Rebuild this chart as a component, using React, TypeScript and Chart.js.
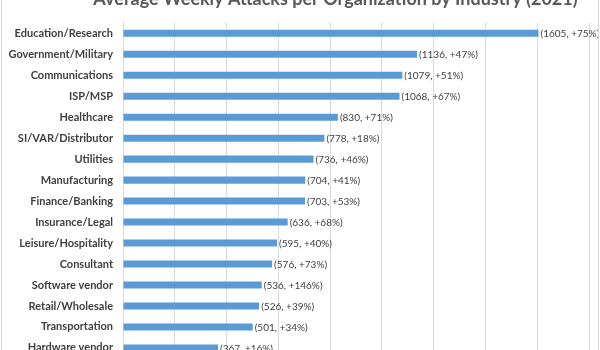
import React, { useEffect, useRef } from "react";
import { Chart, registerables } from "chart.js";

Chart.register(...registerables);

const TITLE = "Average Weekly Attacks per Organization by Industry (2021)";

const industries = [
  "Education/Research",
  "Government/Military",
  "Communications",
  "ISP/MSP",
  "Healthcare",
  "SI/VAR/Distributor",
  "Utilities",
  "Manufacturing",
  "Finance/Banking",
  "Insurance/Legal",
  "Leisure/Hospitality",
  "Consultant",
  "Software vendor",
  "Retail/Wholesale",
  "Transportation",
  "Hardware vendor",
];

const weeklyAttacks = [1605, 1136, 1079, 1068, 830, 778, 736, 704, 703, 636, 595, 576, 536, 526, 501, 367];

const changeVsPrev = ["+75%", "+47%", "+51%", "+67%", "+71%", "+18%", "+46%", "+41%", "+53%", "+68%", "+40%", "+73%", "+146%", "+39%", "+34%", "+16%"];

const FONT = "Lato, 'Open Sans', sans-serif";

const labelPlugin = {
  id: "barValueLabels",
  afterDatasetsDraw(chart: any) {
    const { ctx } = chart;
    const meta = chart.getDatasetMeta(0);
    ctx.save();
    ctx.font = `10px ${FONT}`;
    ctx.fillStyle = "#404040";
    ctx.textAlign = "left";
    ctx.textBaseline = "middle";
    meta.data.forEach((bar: any, i: number) => {
      const txt = `(${weeklyAttacks[i]}, ${changeVsPrev[i]})`;
      ctx.fillText(txt, bar.x + 2, bar.y + 0.5);
    });
    ctx.restore();
  },
};

const titlePlugin = {
  id: "offsetTitle",
  afterDraw(chart: any) {
    const { ctx, width, height } = chart;
    ctx.save();
    ctx.font = `bold 18px ${FONT}`;
    ctx.fillStyle = "#595959";
    ctx.textAlign = "center";
    ctx.textBaseline = "alphabetic";
    ctx.fillText(TITLE, 335.5, 14.5);
    ctx.strokeStyle = "#D9D9D9";
    ctx.lineWidth = 1;
    ctx.strokeRect(1.5, 0.5, width - 3, height - 1);
    ctx.restore();
  },
};

export default function App() {
  const ref = useRef<HTMLCanvasElement>(null);

  useEffect(() => {
    if (!ref.current) return;
    const chart = new Chart(ref.current, {
      type: "bar",
      data: {
        labels: industries,
        datasets: [
          {
            data: weeklyAttacks,
            backgroundColor: "#5B9BD5",
            borderWidth: 0,
            barPercentage: 0.8,
            categoryPercentage: 0.42,
          },
        ],
      },
      options: {
        indexAxis: "y",
        animation: false,
        responsive: false,
        maintainAspectRatio: false,
        layout: { padding: { left: 0, right: 11, top: 32.8, bottom: 7.8 } },
        plugins: {
          legend: { display: false },
          tooltip: { enabled: false },
          title: { display: false },
        },
        scales: {
          x: {
            min: 0,
            max: 1800,
            afterFit: (s: any) => {
              s.height = 0;
            },
            ticks: { display: false, stepSize: 200 },
            grid: { color: "#D9D9D9", drawTicks: false },
            border: { display: false },
          },
          y: {
            afterFit: (s: any) => {
              s.width = 123;
            },
            ticks: {
              color: "#404040",
              padding: 10,
              font: { family: FONT, size: 11, weight: "bold" },
            },
            grid: { display: false, drawTicks: false },
            border: { color: "#D9D9D9" },
          },
        },
      },
      plugins: [labelPlugin, titlePlugin],
    });
    return () => chart.destroy();
  }, []);

  return (
    <div style={{ position: "absolute", left: 0, top: -10, width: 600, height: 385 }}>
      <canvas ref={ref} width={600} height={385} style={{ display: "block" }} />
    </div>
  );
}
